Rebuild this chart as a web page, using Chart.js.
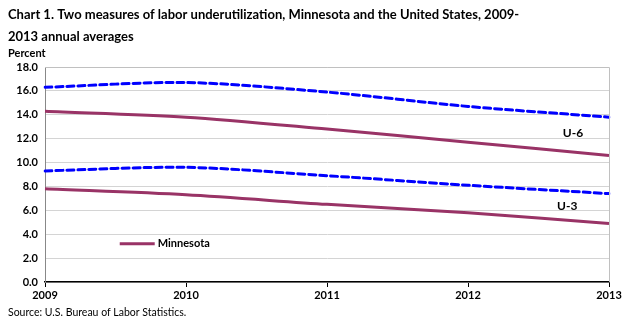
<!DOCTYPE html>
<html>
<head>
<meta charset="utf-8">
<script src="https://cdn.jsdelivr.net/npm/chart.js@4.4.1/dist/chart.umd.min.js"></script>
<style>
  html, body { margin: 0; padding: 0; background: #fff; }
  #wrap { position: relative; width: 630px; height: 321px; }
</style>
</head>
<body>
<div id="wrap"><canvas id="laborChart" width="630" height="321"></canvas></div>
<script>
// Annual averages, percent
const years = ['2009', '2010', '2011', '2012', '2013'];
const mnU6 = [14.3, 13.8, 12.8, 11.7, 10.6];
const usU6 = [16.3, 16.7, 15.9, 14.7, 13.8];
const mnU3 = [7.8, 7.3, 6.5, 5.8, 4.9];
const usU3 = [9.3, 9.6, 8.9, 8.1, 7.4];
const yTicks = [0, 2, 4, 6, 8, 10, 12, 14, 16, 18];

const titleLines = [
    'Chart 1. Two measures of labor underutilization, Minnesota and the United States, 2009-',
    '2013 annual averages'
];

const FONT = "Lato, 'Open Sans', sans-serif";
const MN_COLOR = '#993366';
const US_COLOR = '#0000ff';

// Title, axis caption, series tags, legend and source note
const annotations = {
    id: 'annotations',
    afterDraw(chart) {
        const ctx = chart.ctx;
        const x = chart.scales.x;
        const y = chart.scales.y;
        const area = chart.chartArea;
        ctx.save();

        // plot frame (top and right)
        ctx.strokeStyle = '#c0c0c0';
        ctx.lineWidth = 1;
        ctx.beginPath();
        ctx.moveTo(area.left, area.top + 0.5);
        ctx.lineTo(area.right + 0.5, area.top + 0.5);
        ctx.lineTo(area.right + 0.5, area.bottom);
        ctx.stroke();

        ctx.fillStyle = '#000';
        ctx.textBaseline = 'alphabetic';
        ctx.textAlign = 'left';
        ctx.font = 'bold 13px ' + FONT;
        ctx.fillText(titleLines[0], 8, 19);
        ctx.fillText(titleLines[1], 8, 41);

        ctx.font = 'bold 11px ' + FONT;
        ctx.fillText('Percent', 8, 57);

        ctx.font = 'bold 12px ' + FONT;
        ctx.fillText('U-6', x.getPixelForValue(3.75) - 11, y.getPixelForValue(12.6) + 5);
        ctx.fillText('U-3', x.getPixelForValue(3.71) - 11, y.getPixelForValue(6.45) + 5);

        // legend entry
        const ly = y.getPixelForValue(3.2);
        const lx = x.getPixelForValue(0.53);
        ctx.strokeStyle = MN_COLOR;
        ctx.lineWidth = 3;
        ctx.beginPath();
        ctx.moveTo(lx, ly);
        ctx.lineTo(lx + 35, ly);
        ctx.stroke();
        ctx.font = 'bold 11px ' + FONT;
        ctx.textBaseline = 'middle';
        ctx.fillText('Minnesota', lx + 38, ly);

        ctx.font = '10.5px ' + FONT;
        ctx.textBaseline = 'alphabetic';
        ctx.fillText('Source: U.S. Bureau of Labor Statistics.', 8, 316);
        ctx.restore();
    }
};

function line(data, color, dashed) {
    return {
        data: data,
        borderColor: color,
        backgroundColor: color,
        borderWidth: 3,
        borderDash: dashed ? [7, 4] : [],
        borderCapStyle: dashed ? 'round' : 'butt',
        pointRadius: 0,
        tension: 0.3,
        fill: false
    };
}

new Chart(document.getElementById('laborChart'), {
    type: 'line',
    data: {
        labels: years,
        datasets: [
            line(mnU6, MN_COLOR, false),
            line(usU6, US_COLOR, true),
            line(mnU3, MN_COLOR, false),
            line(usU3, US_COLOR, true)
        ]
    },
    options: {
        responsive: false,
        animation: false,
        layout: { padding: { top: 67, right: 21, left: 0, bottom: 0 } },
        plugins: {
            legend: { display: false },
            title: { display: false },
            tooltip: { enabled: false }
        },
        scales: {
            x: {
                offset: false,
                grid: { drawOnChartArea: false, drawTicks: true, tickLength: 5, tickColor: '#000' },
                border: { color: '#000', width: 1.5 },
                ticks: { color: '#000', font: { family: FONT, size: 11, weight: 'bold' }, maxRotation: 0, padding: 2 },
                afterFit(axis) { axis.height = 39; }
            },
            y: {
                min: 0,
                max: 18,
                afterBuildTicks(axis) { axis.ticks = yTicks.map(v => ({ value: v })); },
                grid: { color: '#d4d4d4', drawTicks: false },
                border: { color: '#888', width: 1 },
                ticks: {
                    color: '#000',
                    padding: 7,
                    font: { family: FONT, size: 11, weight: 'bold' },
                    callback: v => v.toFixed(1)
                },
                afterFit(axis) { axis.width = 45; }
            }
        }
    },
    plugins: [annotations]
});
</script>
</body>
</html>
